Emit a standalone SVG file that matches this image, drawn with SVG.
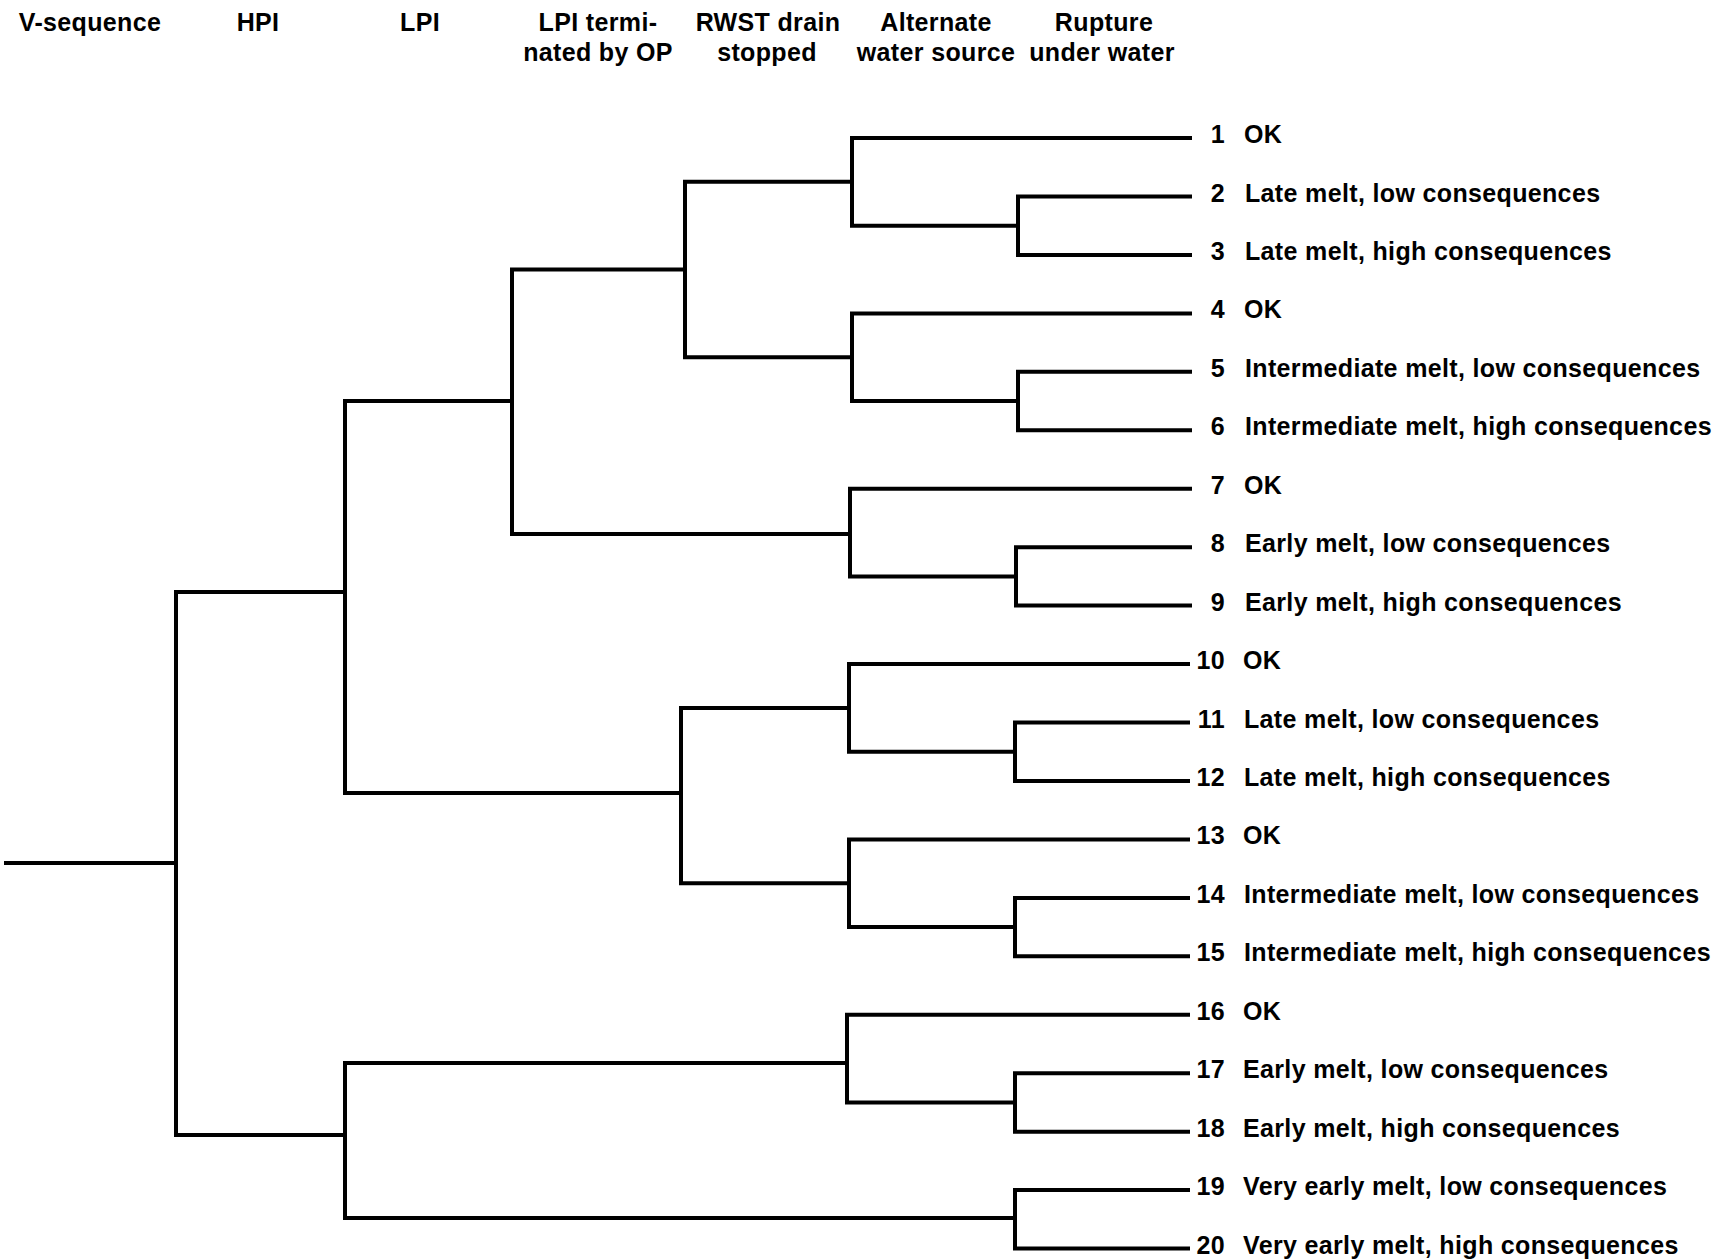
<svg xmlns="http://www.w3.org/2000/svg" width="1728" height="1259" viewBox="0 0 1728 1259">
<style>
.t{font-family:"Liberation Sans",Arial,sans-serif;font-weight:bold;font-size:25px;fill:#000;letter-spacing:0.35px}
.h{text-anchor:middle}
.n{text-anchor:end}
.c{fill:none;stroke:#000;stroke-width:4;stroke-linejoin:miter;stroke-linecap:square}
</style>
<rect width="1728" height="1259" fill="#fff"/>
<g id="headers">
<g id="h-vseq"><text class="t h" x="90" y="31">V-sequence</text></g>
<g id="h-hpi"><text class="t h" x="258" y="31">HPI</text></g>
<g id="h-lpi"><text class="t h" x="420" y="31">LPI</text></g>
<g id="h-lpiterm"><text class="t h" x="598" y="31">LPI termi-</text><text class="t h" x="598" y="61">nated by OP</text></g>
<g id="h-rwst"><text class="t h" x="768" y="31">RWST drain</text><text class="t h" x="767" y="61">stopped</text></g>
<g id="h-alt"><text class="t h" x="936" y="31">Alternate</text><text class="t h" x="936" y="61">water source</text></g>
<g id="h-rupt"><text class="t h" x="1104" y="31">Rupture</text><text class="t h" x="1102" y="61">under water</text></g>
</g>
<g id="connectors" class="c">
<path d="M6 863 H176"/>
<path d="M345 592 H176 V1135 H345"/>
<path d="M512 401 H345 V793 H681"/>
<path d="M685 269.5 H512 V534 H850"/>
<path d="M852 181.85 H685 V357.2 H852"/>
<path d="M1190 138 H852 V225.7 H1018"/>
<path d="M1190 196.5 H1018 V254.9 H1190"/>
<path d="M1190 313.4 H852 V401.05 H1018"/>
<path d="M1190 371.8 H1018 V430.3 H1190"/>
<path d="M1190 488.7 H850 V576.4 H1016"/>
<path d="M1190 547.2 H1016 V605.6 H1190"/>
<path d="M849 707.9 H681 V883.25 H849"/>
<path d="M1188 664.1 H849 V751.75 H1015"/>
<path d="M1188 722.5 H1015 V781 H1188"/>
<path d="M1188 839.4 H849 V927.1 H1015"/>
<path d="M1188 897.9 H1015 V956.3 H1188"/>
<path d="M847 1063 H345 V1218 H1015"/>
<path d="M1188 1014.8 H847 V1102.45 H1015"/>
<path d="M1188 1073.2 H1015 V1131.7 H1188"/>
<path d="M1188 1190.1 H1015 V1248.6 H1188"/>
</g>
<g id="outcomes">
<g id="o1"><text class="t n" x="1225" y="143">1</text><text class="t" x="1244" y="143">OK</text></g>
<g id="o2"><text class="t n" x="1225" y="201.5">2</text><text class="t" x="1245" y="201.5">Late melt, low consequences</text></g>
<g id="o3"><text class="t n" x="1225" y="259.9">3</text><text class="t" x="1245" y="259.9">Late melt, high consequences</text></g>
<g id="o4"><text class="t n" x="1225" y="318.4">4</text><text class="t" x="1244" y="318.4">OK</text></g>
<g id="o5"><text class="t n" x="1225" y="376.8">5</text><text class="t" x="1245" y="376.8">Intermediate melt, low consequences</text></g>
<g id="o6"><text class="t n" x="1225" y="435.3">6</text><text class="t" x="1245" y="435.3">Intermediate melt, high consequences</text></g>
<g id="o7"><text class="t n" x="1225" y="493.7">7</text><text class="t" x="1244" y="493.7">OK</text></g>
<g id="o8"><text class="t n" x="1225" y="552.2">8</text><text class="t" x="1245" y="552.2">Early melt, low consequences</text></g>
<g id="o9"><text class="t n" x="1225" y="610.6">9</text><text class="t" x="1245" y="610.6">Early melt, high consequences</text></g>
<g id="o10"><text class="t n" x="1225" y="669.1">10</text><text class="t" x="1243" y="669.1">OK</text></g>
<g id="o11"><text class="t n" x="1225" y="727.5">11</text><text class="t" x="1244" y="727.5">Late melt, low consequences</text></g>
<g id="o12"><text class="t n" x="1225" y="786">12</text><text class="t" x="1244" y="786">Late melt, high consequences</text></g>
<g id="o13"><text class="t n" x="1225" y="844.4">13</text><text class="t" x="1243" y="844.4">OK</text></g>
<g id="o14"><text class="t n" x="1225" y="902.9">14</text><text class="t" x="1244" y="902.9">Intermediate melt, low consequences</text></g>
<g id="o15"><text class="t n" x="1225" y="961.3">15</text><text class="t" x="1244" y="961.3">Intermediate melt, high consequences</text></g>
<g id="o16"><text class="t n" x="1225" y="1019.8">16</text><text class="t" x="1243" y="1019.8">OK</text></g>
<g id="o17"><text class="t n" x="1225" y="1078.2">17</text><text class="t" x="1243" y="1078.2">Early melt, low consequences</text></g>
<g id="o18"><text class="t n" x="1225" y="1136.7">18</text><text class="t" x="1243" y="1136.7">Early melt, high consequences</text></g>
<g id="o19"><text class="t n" x="1225" y="1195.1">19</text><text class="t" x="1243" y="1195.1">Very early melt, low consequences</text></g>
<g id="o20"><text class="t n" x="1225" y="1253.6">20</text><text class="t" x="1243" y="1253.6">Very early melt, high consequences</text></g>
</g>
</svg>
